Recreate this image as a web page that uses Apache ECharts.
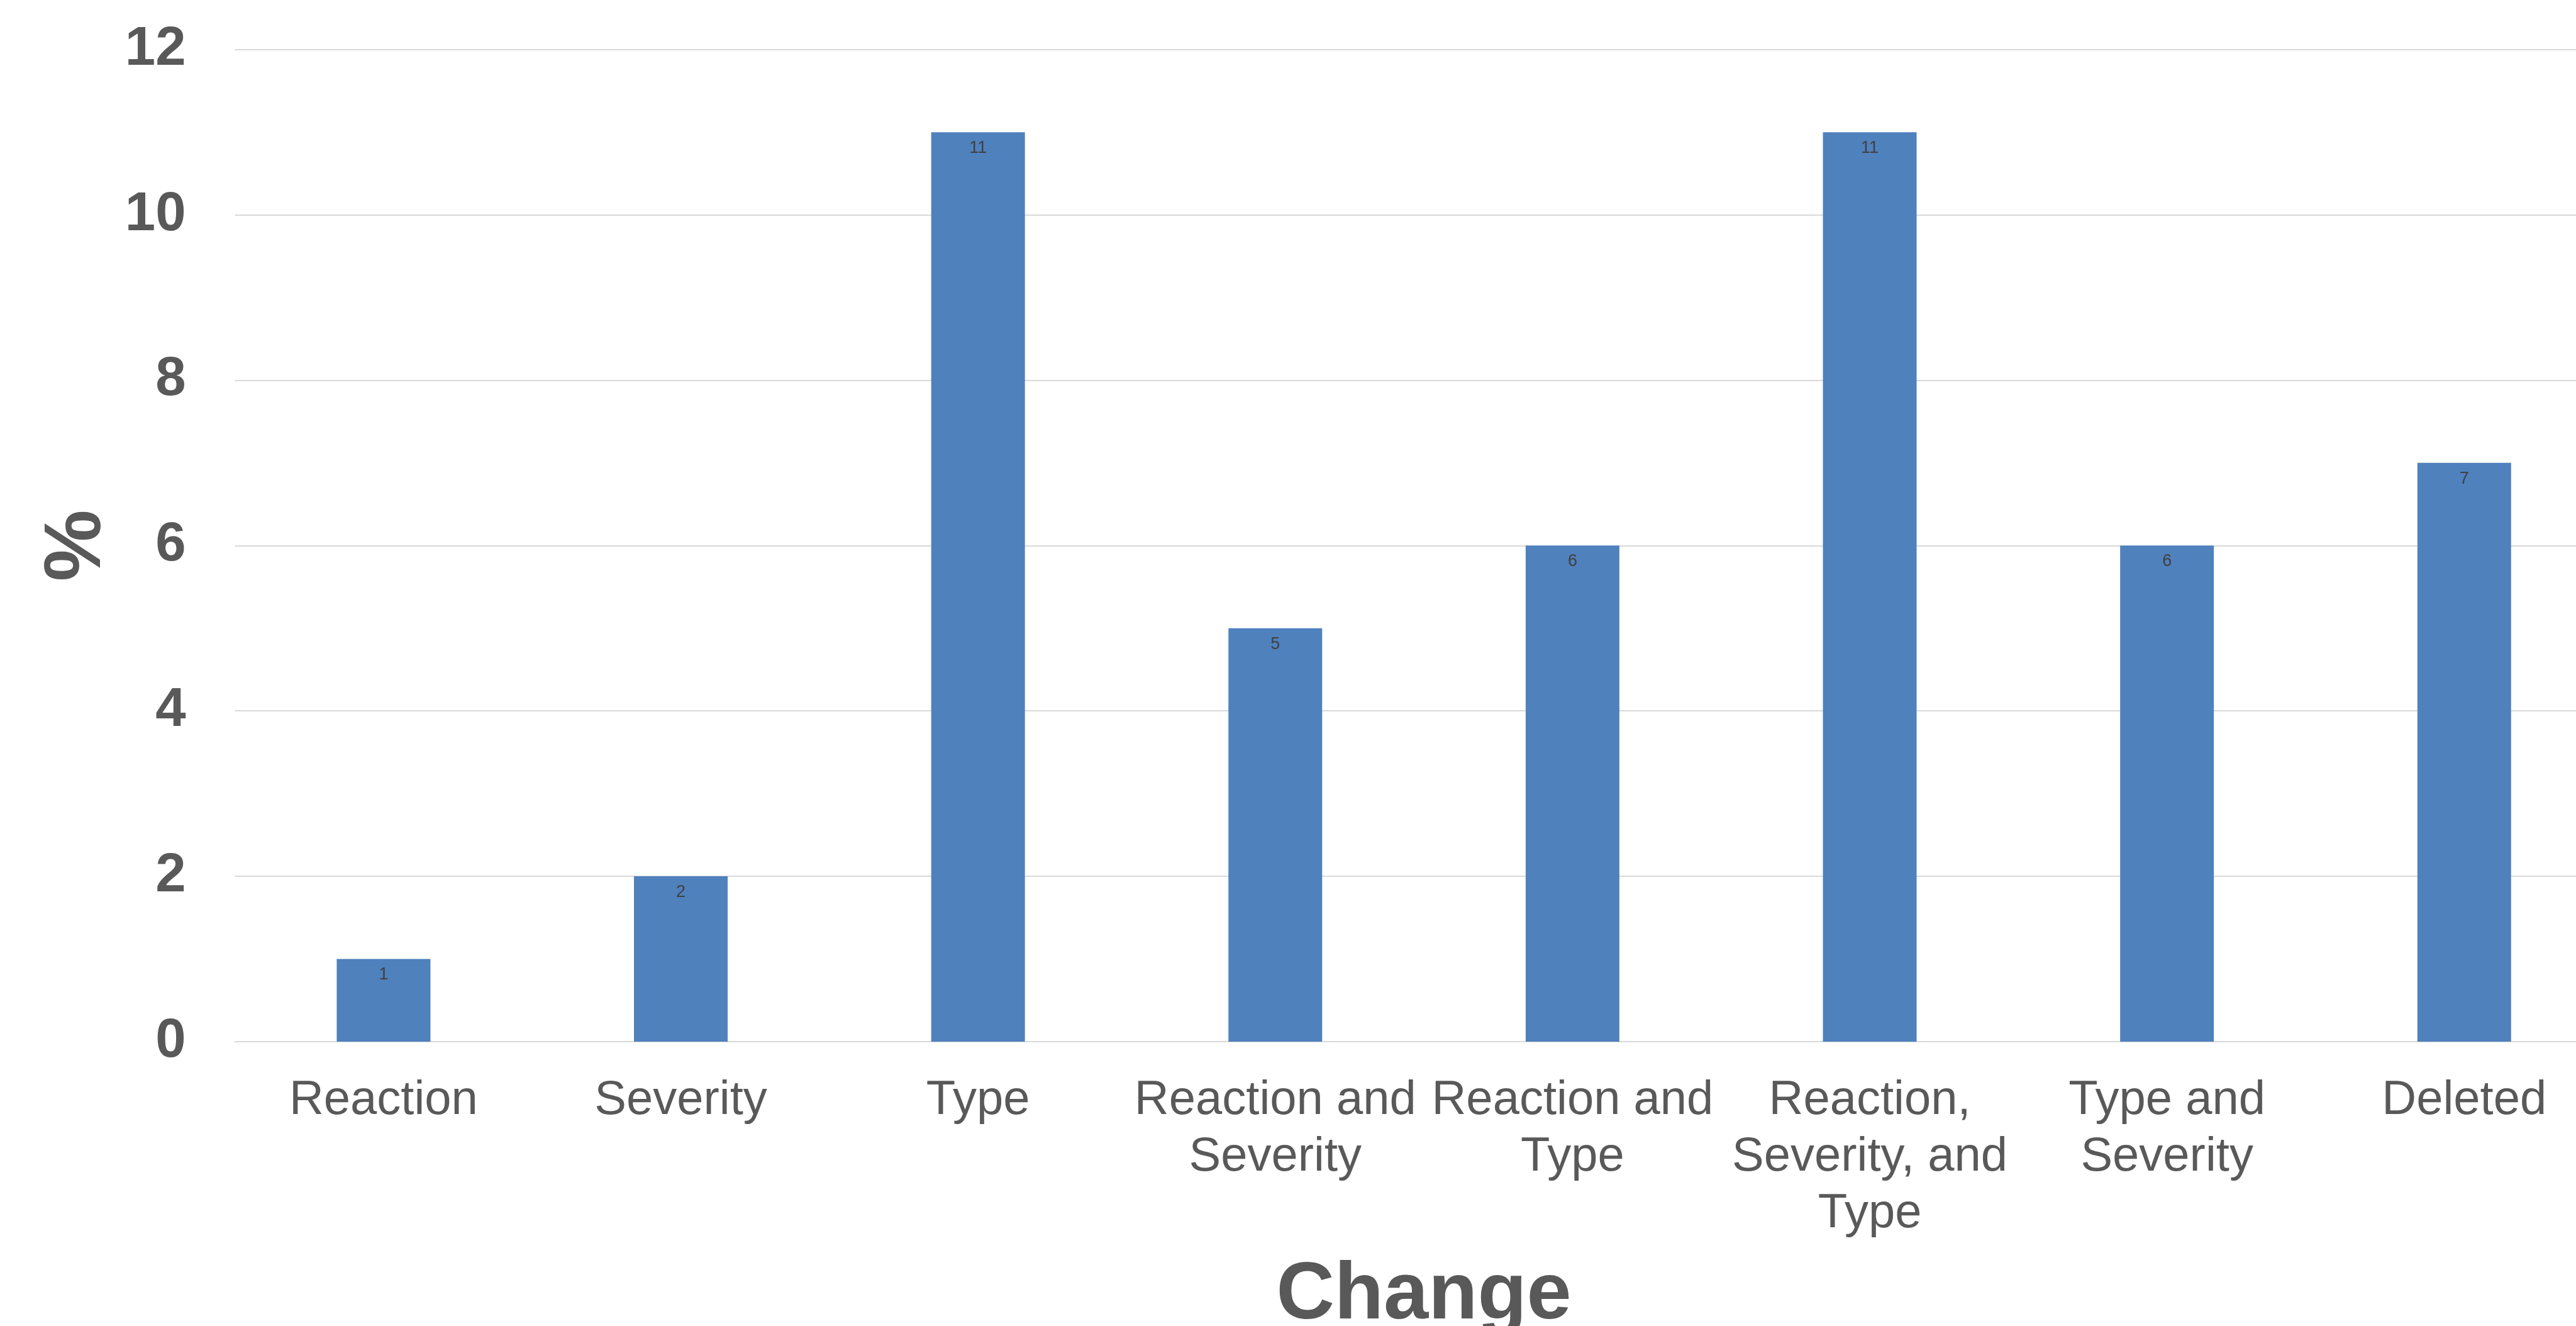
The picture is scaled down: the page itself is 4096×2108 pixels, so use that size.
<!DOCTYPE html>
<html>
<head>
<meta charset="utf-8">
<script src="https://cdn.jsdelivr.net/npm/echarts@6/dist/echarts.min.js"></script>
<style>
html,body{margin:0;padding:0;background:#fff;overflow:hidden;}
#chart{width:4096px;height:2108px;}
</style>
</head>
<body>
<div id="chart"></div>
<script>
const categories = [
  "Reaction",
  "Severity",
  "Type",
  "Reaction and\nSeverity",
  "Reaction and\nType",
  "Reaction,\nSeverity, and\nType",
  "Type and\nSeverity",
  "Deleted"
];
const values = [1, 2, 11, 5, 6, 11, 6, 7];
const yTicks = { min: 0, max: 12, interval: 2 };
const xAxisTitle = "Change";
const yAxisTitle = "%";

const FONT = '"Liberation Sans", Arial, sans-serif';
const chart = echarts.init(document.getElementById('chart'), null, { renderer: 'canvas' });
chart.setOption({
  backgroundColor: '#ffffff',
  animation: false,
  grid: { left: 373.6, top: 78.7, width: 3781, height: 1577.2, containLabel: false, outerBoundsMode: 'none' },
  xAxis: {
    type: 'category',
    data: categories,
    name: xAxisTitle,
    nameLocation: 'middle',
    nameGap: 341,
    nameTextStyle: { fontFamily: FONT, fontSize: 128, fontWeight: 'bold', color: '#595959', lineHeight: 128 },
    axisLine: { show: true, lineStyle: { color: '#d9d9d9', width: 2 } },
    axisTick: { show: false },
    axisLabel: {
      interval: 0,
      margin: 49,
      fontFamily: FONT,
      fontSize: 76,
      lineHeight: 90,
      color: '#595959'
    },
    splitLine: { show: false }
  },
  yAxis: {
    type: 'value',
    min: yTicks.min,
    max: yTicks.max,
    interval: yTicks.interval,
    name: yAxisTitle,
    nameLocation: 'middle',
    nameRotate: 90,
    nameGap: 173,
    nameTextStyle: { fontFamily: FONT, fontSize: 128, fontWeight: 'bold', color: '#595959', lineHeight: 128 },
    axisLine: { show: false },
    axisTick: { show: false },
    axisLabel: {
      margin: 78,
      fontFamily: FONT,
      fontSize: 87,
      fontWeight: 'bold',
      color: '#595959'
    },
    splitLine: { show: true, lineStyle: { color: '#d9d9d9', width: 2 } }
  },
  series: [{
    type: 'bar',
    data: values,
    barWidth: 149,
    itemStyle: { color: '#4f81bd' },
    label: {
      show: true,
      position: 'insideTop',
      distance: 12,
      fontFamily: FONT,
      fontSize: 27,
      color: '#404040'
    }
  }]
});
</script>
</body>
</html>
